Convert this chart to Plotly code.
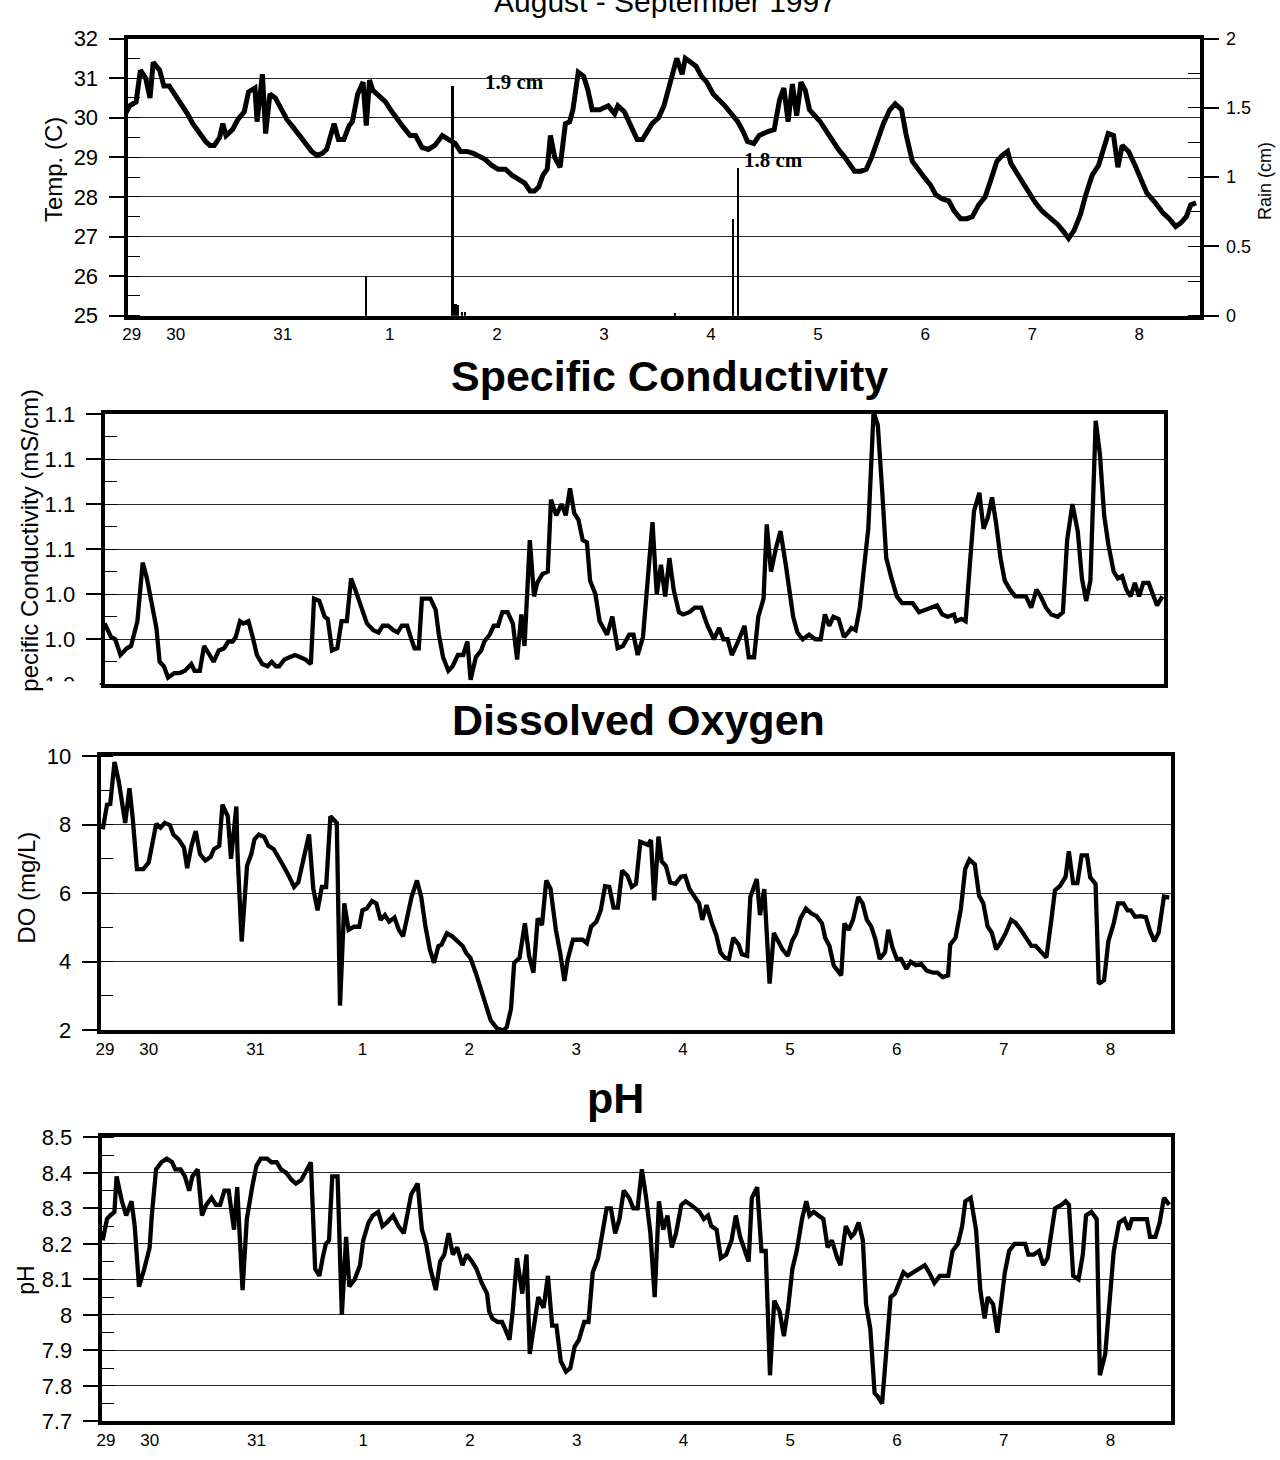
import plotly.graph_objects as go

W, H = 1280, 1460
OFF = 0  # body margin is removed below, so the figure fills the page exactly

def fx(px):
    return (px - OFF) / W

def fy(py):
    return 1 - (py - OFF) / H

# ---------------- data (time in days from Aug 29 00:00) ----------------
day_tickvals = [0.59, 1, 2, 3, 4, 5, 6, 7, 8, 9, 10]
day_ticktext = ["29", "30", "31", "1", "2", "3", "4", "5", "6", "7", "8"]

temp_series = [
    (0.51, 29.8), (0.53, 30.1), (0.57, 30.3), (0.63, 30.4), (0.67, 31.2), (0.72, 31.0), (0.76, 30.5),
    (0.79, 31.4), (0.85, 31.2), (0.89, 30.8), (0.94, 30.8), (0.99, 30.6), (1.05, 30.35), (1.11, 30.1),
    (1.16, 29.85), (1.22, 29.6), (1.28, 29.4), (1.32, 29.3), (1.36, 29.3), (1.41, 29.5), (1.44, 29.85),
    (1.47, 29.55), (1.53, 29.7), (1.58, 29.95), (1.64, 30.15), (1.68, 30.65), (1.74, 30.75), (1.76, 29.9),
    (1.81, 31.1), (1.84, 29.6), (1.88, 30.6), (1.93, 30.5), (1.99, 30.2), (2.04, 29.95), (2.10, 29.75),
    (2.16, 29.55), (2.21, 29.35), (2.27, 29.15), (2.32, 29.05), (2.37, 29.1), (2.41, 29.2), (2.44, 29.45),
    (2.48, 29.85), (2.52, 29.45), (2.57, 29.45), (2.62, 29.8), (2.65, 29.9), (2.70, 30.6), (2.75, 30.9),
    (2.78, 29.8), (2.81, 30.95), (2.84, 30.7), (2.90, 30.55), (2.96, 30.4), (3.02, 30.15), (3.07, 29.95),
    (3.13, 29.75), (3.19, 29.55), (3.24, 29.55), (3.30, 29.25), (3.36, 29.2), (3.42, 29.3), (3.49, 29.55),
    (3.55, 29.45), (3.61, 29.35), (3.66, 29.15), (3.72, 29.15), (3.78, 29.1), (3.84, 29.0), (3.89, 28.95),
    (3.95, 28.8), (4.01, 28.7), (4.08, 28.7), (4.14, 28.55), (4.20, 28.45), (4.26, 28.35), (4.31, 28.15),
    (4.35, 28.15), (4.39, 28.25), (4.43, 28.55), (4.47, 28.7), (4.50, 29.55), (4.54, 29.0), (4.59, 28.75),
    (4.64, 29.85), (4.68, 29.9), (4.71, 30.2), (4.76, 31.15), (4.81, 31.05), (4.85, 30.7), (4.89, 30.2),
    (4.96, 30.2), (5.04, 30.3), (5.10, 30.1), (5.13, 30.3), (5.19, 30.15), (5.25, 29.8), (5.31, 29.45),
    (5.36, 29.45), (5.39, 29.6), (5.45, 29.85), (5.51, 30.0), (5.56, 30.3), (5.62, 30.9), (5.68, 31.5),
    (5.73, 31.1), (5.76, 31.5), (5.81, 31.4), (5.86, 31.3), (5.91, 31.05), (5.96, 30.9), (6.02, 30.6),
    (6.08, 30.45), (6.13, 30.3), (6.19, 30.1), (6.25, 29.9), (6.30, 29.65), (6.34, 29.4), (6.40, 29.35),
    (6.45, 29.55), (6.53, 29.65), (6.59, 29.7), (6.64, 30.45), (6.68, 30.75), (6.72, 29.9), (6.76, 30.85),
    (6.80, 30.05), (6.84, 30.9), (6.88, 30.7), (6.92, 30.2), (6.97, 30.05), (7.02, 29.9), (7.08, 29.65),
    (7.14, 29.4), (7.19, 29.2), (7.25, 29.0), (7.31, 28.8), (7.34, 28.65), (7.40, 28.65), (7.45, 28.7),
    (7.50, 29.0), (7.55, 29.4), (7.61, 29.85), (7.67, 30.2), (7.72, 30.35), (7.78, 30.2), (7.82, 29.6),
    (7.88, 28.9), (7.93, 28.7), (7.99, 28.5), (8.05, 28.3), (8.10, 28.05), (8.16, 27.95), (8.22, 27.9),
    (8.27, 27.65), (8.33, 27.45), (8.39, 27.45), (8.44, 27.5), (8.50, 27.8), (8.56, 28.0), (8.61, 28.4),
    (8.67, 28.9), (8.72, 29.05), (8.77, 29.15), (8.80, 28.85), (8.86, 28.6), (8.92, 28.3), (8.97, 28.1),
    (9.03, 27.85), (9.09, 27.65), (9.16, 27.5), (9.24, 27.3), (9.30, 27.1), (9.34, 26.95), (9.39, 27.15),
    (9.45, 27.55), (9.50, 28.05), (9.56, 28.55), (9.62, 28.8), (9.66, 29.15), (9.71, 29.6), (9.76, 29.55),
    (9.80, 28.75), (9.84, 29.3), (9.90, 29.15), (9.96, 28.8), (10.02, 28.45), (10.07, 28.1), (10.15, 27.85),
    (10.22, 27.6), (10.28, 27.45), (10.34, 27.25), (10.39, 27.35), (10.44, 27.5), (10.48, 27.8), (10.53, 27.85),
]

rain_t = [2.77, 3.58, 3.61, 3.63, 3.67, 3.70, 5.66, 6.20, 6.25]
rain_cm = [0.29, 1.66, 0.09, 0.08, 0.03, 0.03, 0.02, 0.70, 1.07]
rain_labels = ["1.9 cm", "1.8 cm"]

cond_series = [
    (0.55, 1.027), (0.61, 1.021), (0.65, 1.020), (0.70, 1.013), (0.76, 1.016), (0.80, 1.017), (0.86, 1.028),
    (0.91, 1.054), (0.95, 1.047), (0.99, 1.038), (1.04, 1.025), (1.07, 1.010), (1.11, 1.008), (1.15, 1.003),
    (1.21, 1.005), (1.26, 1.005), (1.31, 1.006), (1.37, 1.009), (1.40, 1.006), (1.45, 1.006), (1.49, 1.017),
    (1.53, 1.014), (1.58, 1.010), (1.63, 1.015), (1.68, 1.016), (1.72, 1.019), (1.76, 1.019), (1.79, 1.021),
    (1.83, 1.028), (1.86, 1.027), (1.91, 1.028), (1.95, 1.021), (1.99, 1.013), (2.04, 1.009), (2.09, 1.008),
    (2.13, 1.010), (2.17, 1.008), (2.20, 1.008), (2.25, 1.011), (2.30, 1.012), (2.35, 1.013), (2.40, 1.012),
    (2.45, 1.011), (2.50, 1.009), (2.53, 1.038), (2.58, 1.037), (2.63, 1.030), (2.66, 1.029), (2.70, 1.015),
    (2.75, 1.016), (2.79, 1.028), (2.84, 1.028), (2.88, 1.047), (2.92, 1.042), (2.98, 1.033), (3.03, 1.027),
    (3.09, 1.024), (3.14, 1.023), (3.18, 1.026), (3.23, 1.026), (3.28, 1.024), (3.32, 1.023), (3.36, 1.026),
    (3.41, 1.026), (3.45, 1.020), (3.48, 1.016), (3.52, 1.016), (3.55, 1.038), (3.63, 1.038), (3.68, 1.033),
    (3.71, 1.022), (3.75, 1.012), (3.80, 1.006), (3.84, 1.008), (3.89, 1.013), (3.94, 1.013), (3.98, 1.019),
    (4.01, 1.002), (4.06, 1.012), (4.11, 1.015), (4.14, 1.019), (4.19, 1.022), (4.23, 1.026), (4.27, 1.026),
    (4.31, 1.032), (4.36, 1.032), (4.41, 1.027), (4.45, 1.011), (4.49, 1.031), (4.52, 1.017), (4.57, 1.064),
    (4.61, 1.039), (4.64, 1.045), (4.69, 1.049), (4.74, 1.050), (4.77, 1.082), (4.82, 1.075), (4.87, 1.080),
    (4.91, 1.075), (4.95, 1.087), (4.99, 1.076), (5.03, 1.073), (5.07, 1.064), (5.11, 1.063), (5.14, 1.046),
    (5.19, 1.040), (5.23, 1.028), (5.27, 1.024), (5.30, 1.022), (5.35, 1.030), (5.40, 1.016), (5.45, 1.017),
    (5.51, 1.022), (5.55, 1.022), (5.59, 1.013), (5.64, 1.021), (5.73, 1.072), (5.77, 1.040), (5.81, 1.053),
    (5.85, 1.039), (5.89, 1.056), (5.93, 1.042), (5.98, 1.032), (6.02, 1.031), (6.08, 1.032), (6.13, 1.034),
    (6.19, 1.034), (6.25, 1.026), (6.31, 1.020), (6.36, 1.025), (6.40, 1.020), (6.44, 1.020), (6.48, 1.013),
    (6.53, 1.018), (6.60, 1.026), (6.64, 1.012), (6.69, 1.012), (6.73, 1.030), (6.78, 1.038), (6.81, 1.071),
    (6.85, 1.050), (6.90, 1.061), (6.94, 1.068), (6.99, 1.053), (7.03, 1.040), (7.06, 1.030), (7.10, 1.023),
    (7.15, 1.020), (7.21, 1.022), (7.27, 1.020), (7.32, 1.020), (7.36, 1.031), (7.40, 1.026), (7.44, 1.030),
    (7.49, 1.029), (7.54, 1.021), (7.58, 1.023), (7.61, 1.025), (7.65, 1.024), (7.69, 1.034), (7.73, 1.052),
    (7.77, 1.069), (7.82, 1.121), (7.86, 1.115), (7.90, 1.087), (7.94, 1.056), (7.99, 1.047), (8.04, 1.039),
    (8.09, 1.036), (8.13, 1.036), (8.19, 1.036), (8.25, 1.032), (8.31, 1.033), (8.36, 1.034), (8.42, 1.035),
    (8.47, 1.031), (8.52, 1.030), (8.58, 1.031), (8.60, 1.028), (8.65, 1.029), (8.69, 1.028), (8.73, 1.053),
    (8.77, 1.077), (8.82, 1.085), (8.86, 1.069), (8.90, 1.074), (8.94, 1.083), (8.98, 1.071), (9.02, 1.056),
    (9.06, 1.046), (9.11, 1.042), (9.16, 1.039), (9.21, 1.039), (9.26, 1.039), (9.31, 1.034), (9.36, 1.042),
    (9.40, 1.039), (9.45, 1.034), (9.50, 1.031), (9.56, 1.030), (9.61, 1.032), (9.65, 1.064), (9.70, 1.080),
    (9.75, 1.068), (9.79, 1.047), (9.83, 1.037), (9.87, 1.046), (9.92, 1.117), (9.96, 1.102), (10.00, 1.075),
    (10.04, 1.062), (10.09, 1.050), (10.13, 1.047), (10.17, 1.048), (10.21, 1.042), (10.25, 1.039),
    (10.29, 1.045), (10.33, 1.039), (10.37, 1.045), (10.42, 1.045), (10.46, 1.040), (10.50, 1.035), (10.55, 1.039),
]

do_series = [
    (0.57, 7.86), (0.61, 8.58), (0.64, 8.6), (0.68, 9.83), (0.72, 9.25), (0.78, 8.05), (0.82, 9.06),
    (0.85, 8.2), (0.89, 6.7), (0.95, 6.7), (1.00, 6.9), (1.03, 7.43), (1.07, 8.02), (1.11, 7.91),
    (1.15, 8.05), (1.20, 7.98), (1.23, 7.71), (1.28, 7.57), (1.33, 7.33), (1.36, 6.73), (1.40, 7.38),
    (1.44, 7.81), (1.48, 7.14), (1.53, 6.95), (1.58, 7.06), (1.61, 7.28), (1.66, 7.38), (1.69, 8.58),
    (1.74, 8.24), (1.77, 7.0), (1.82, 8.53), (1.83, 7.23), (1.87, 4.59), (1.92, 6.8), (1.96, 7.14),
    (1.99, 7.57), (2.03, 7.71), (2.08, 7.64), (2.12, 7.38), (2.17, 7.28), (2.21, 7.04), (2.26, 6.8),
    (2.31, 6.51), (2.36, 6.18), (2.40, 6.32), (2.45, 7.09), (2.50, 7.71), (2.54, 6.13), (2.58, 5.5),
    (2.62, 6.18), (2.66, 6.18), (2.70, 8.24), (2.76, 8.05), (2.79, 2.72), (2.83, 5.7), (2.87, 4.93),
    (2.92, 5.02), (2.97, 5.02), (3.00, 5.5), (3.04, 5.55), (3.09, 5.77), (3.13, 5.7), (3.17, 5.22),
    (3.21, 5.36), (3.25, 5.17), (3.30, 5.29), (3.34, 4.93), (3.38, 4.74), (3.42, 5.31), (3.46, 5.89),
    (3.51, 6.37), (3.55, 5.89), (3.59, 5.02), (3.63, 4.35), (3.67, 3.97), (3.71, 4.45), (3.74, 4.5),
    (3.79, 4.83), (3.84, 4.74), (3.88, 4.64), (3.94, 4.45), (3.97, 4.26), (4.01, 4.11), (4.06, 3.68),
    (4.11, 3.2), (4.15, 2.72), (4.20, 2.29), (4.26, 2.05), (4.32, 2.0), (4.35, 2.09), (4.39, 2.62),
    (4.42, 3.97), (4.47, 4.11), (4.52, 5.12), (4.56, 4.16), (4.60, 3.68), (4.64, 5.26), (4.68, 5.07),
    (4.72, 6.37), (4.76, 6.13), (4.81, 4.93), (4.85, 4.26), (4.89, 3.44), (4.92, 4.06), (4.97, 4.64),
    (5.02, 4.64), (5.06, 4.64), (5.10, 4.54), (5.14, 5.02), (5.19, 5.17), (5.23, 5.5), (5.27, 6.2),
    (5.31, 6.18), (5.35, 5.58), (5.39, 5.58), (5.43, 6.66), (5.48, 6.51), (5.52, 6.18), (5.56, 6.27),
    (5.60, 7.5), (5.63, 7.45), (5.67, 7.41), (5.70, 7.55), (5.73, 5.79), (5.77, 7.65), (5.80, 6.93),
    (5.84, 6.79), (5.88, 6.31), (5.93, 6.27), (5.98, 6.48), (6.02, 6.5), (6.06, 6.12), (6.10, 5.93),
    (6.15, 5.7), (6.18, 5.22), (6.22, 5.65), (6.27, 5.12), (6.31, 4.79), (6.35, 4.27), (6.39, 4.12),
    (6.43, 4.08), (6.47, 4.7), (6.52, 4.5), (6.55, 4.22), (6.60, 4.17), (6.63, 5.89), (6.69, 6.41),
    (6.72, 5.36), (6.76, 6.12), (6.81, 3.36), (6.85, 4.84), (6.89, 4.6), (6.93, 4.36), (6.98, 4.17),
    (7.02, 4.6), (7.06, 4.84), (7.10, 5.27), (7.15, 5.55), (7.20, 5.41), (7.25, 5.33), (7.30, 5.12),
    (7.33, 4.7), (7.37, 4.46), (7.41, 3.89), (7.48, 3.6), (7.51, 5.12), (7.55, 4.93), (7.59, 5.22),
    (7.64, 5.89), (7.68, 5.7), (7.72, 5.22), (7.76, 5.03), (7.80, 4.65), (7.84, 4.08), (7.89, 4.27),
    (7.92, 4.93), (7.96, 4.41), (8.00, 4.08), (8.04, 4.08), (8.09, 3.79), (8.13, 4.0), (8.18, 3.9),
    (8.23, 3.93), (8.28, 3.74), (8.34, 3.68), (8.38, 3.68), (8.43, 3.55), (8.48, 3.6), (8.50, 4.5),
    (8.55, 4.7), (8.60, 5.55), (8.64, 6.7), (8.68, 6.98), (8.73, 6.84), (8.77, 5.93), (8.81, 5.7),
    (8.85, 5.03), (8.89, 4.84), (8.93, 4.36), (8.97, 4.55), (9.02, 4.84), (9.07, 5.22), (9.11, 5.14),
    (9.16, 4.93), (9.21, 4.7), (9.26, 4.46), (9.30, 4.46), (9.35, 4.27), (9.40, 4.12), (9.45, 5.31),
    (9.48, 6.08), (9.53, 6.22), (9.58, 6.48), (9.61, 7.22), (9.65, 6.29), (9.69, 6.29), (9.73, 7.1),
    (9.78, 7.1), (9.81, 6.46), (9.86, 6.27), (9.89, 3.36), (9.94, 3.46), (9.98, 4.6), (10.03, 5.12),
    (10.07, 5.7), (10.12, 5.7), (10.16, 5.5), (10.19, 5.5), (10.23, 5.31), (10.28, 5.33), (10.33, 5.3),
    (10.37, 4.89), (10.41, 4.6), (10.45, 4.84), (10.50, 5.9), (10.55, 5.87),
]

ph_series = [
    (0.56, 8.21), (0.60, 8.27), (0.63, 8.28), (0.67, 8.29), (0.69, 8.39), (0.74, 8.32), (0.78, 8.28),
    (0.83, 8.32), (0.86, 8.25), (0.90, 8.08), (0.95, 8.13), (1.00, 8.19), (1.02, 8.28), (1.06, 8.41),
    (1.11, 8.43), (1.16, 8.44), (1.21, 8.43), (1.24, 8.41), (1.29, 8.41), (1.33, 8.39), (1.37, 8.35),
    (1.40, 8.39), (1.45, 8.41), (1.49, 8.28), (1.53, 8.31), (1.58, 8.33), (1.62, 8.31), (1.66, 8.31),
    (1.70, 8.35), (1.74, 8.35), (1.79, 8.24), (1.82, 8.36), (1.87, 8.07), (1.91, 8.27), (1.96, 8.36),
    (2.00, 8.42), (2.04, 8.44), (2.10, 8.44), (2.14, 8.43), (2.19, 8.43), (2.23, 8.41), (2.28, 8.40),
    (2.33, 8.38), (2.37, 8.37), (2.42, 8.38), (2.47, 8.41), (2.51, 8.43), (2.55, 8.13), (2.59, 8.11),
    (2.62, 8.16), (2.65, 8.20), (2.68, 8.21), (2.71, 8.39), (2.76, 8.39), (2.80, 8.00), (2.84, 8.22),
    (2.87, 8.08), (2.92, 8.10), (2.97, 8.14), (3.00, 8.21), (3.05, 8.26), (3.09, 8.28), (3.14, 8.29),
    (3.18, 8.25), (3.22, 8.26), (3.28, 8.28), (3.33, 8.25), (3.38, 8.23), (3.41, 8.28), (3.45, 8.34),
    (3.51, 8.37), (3.55, 8.24), (3.59, 8.20), (3.63, 8.13), (3.68, 8.07), (3.72, 8.15), (3.76, 8.17),
    (3.80, 8.23), (3.84, 8.17), (3.88, 8.19), (3.93, 8.14), (3.97, 8.17), (4.02, 8.15), (4.06, 8.13),
    (4.11, 8.09), (4.16, 8.06), (4.18, 8.01), (4.21, 7.99), (4.26, 7.98), (4.30, 7.98), (4.33, 7.96),
    (4.37, 7.93), (4.40, 8.01), (4.44, 8.16), (4.49, 8.06), (4.53, 8.17), (4.56, 7.89), (4.59, 7.95),
    (4.64, 8.05), (4.69, 8.02), (4.73, 8.11), (4.77, 7.97), (4.81, 7.97), (4.85, 7.87), (4.90, 7.84),
    (4.94, 7.85), (4.98, 7.91), (5.02, 7.93), (5.07, 7.98), (5.11, 7.98), (5.15, 8.12), (5.20, 8.16),
    (5.24, 8.23), (5.28, 8.30), (5.32, 8.30), (5.36, 8.23), (5.40, 8.27), (5.44, 8.35), (5.49, 8.33),
    (5.53, 8.30), (5.57, 8.30), (5.61, 8.41), (5.65, 8.33), (5.69, 8.23), (5.73, 8.05), (5.77, 8.32),
    (5.81, 8.24), (5.85, 8.28), (5.89, 8.19), (5.93, 8.23), (5.98, 8.31), (6.02, 8.32), (6.07, 8.31),
    (6.11, 8.30), (6.15, 8.29), (6.19, 8.27), (6.23, 8.28), (6.26, 8.25), (6.31, 8.24), (6.35, 8.16),
    (6.40, 8.17), (6.45, 8.21), (6.49, 8.28), (6.53, 8.22), (6.57, 8.18), (6.61, 8.15), (6.64, 8.33),
    (6.69, 8.36), (6.73, 8.18), (6.77, 8.18), (6.81, 7.83), (6.85, 8.04), (6.90, 8.01), (6.94, 7.94),
    (6.98, 8.02), (7.02, 8.13), (7.06, 8.18), (7.11, 8.27), (7.15, 8.32), (7.18, 8.28), (7.22, 8.29),
    (7.26, 8.28), (7.31, 8.27), (7.35, 8.19), (7.39, 8.21), (7.44, 8.16), (7.47, 8.14), (7.52, 8.25),
    (7.57, 8.22), (7.60, 8.23), (7.64, 8.26), (7.68, 8.21), (7.71, 8.03), (7.75, 7.96), (7.79, 7.78),
    (7.82, 7.77), (7.86, 7.75), (7.90, 7.90), (7.94, 8.05), (7.98, 8.06), (8.01, 8.08), (8.06, 8.12),
    (8.10, 8.11), (8.15, 8.12), (8.21, 8.13), (8.26, 8.14), (8.30, 8.12), (8.35, 8.09), (8.40, 8.11),
    (8.44, 8.11), (8.48, 8.11), (8.52, 8.18), (8.57, 8.20), (8.61, 8.25), (8.64, 8.32), (8.69, 8.33),
    (8.74, 8.24), (8.78, 8.07), (8.82, 7.99), (8.85, 8.05), (8.90, 8.03), (8.94, 7.95), (8.97, 8.02),
    (9.01, 8.12), (9.05, 8.18), (9.10, 8.20), (9.15, 8.20), (9.20, 8.20), (9.23, 8.17), (9.28, 8.17),
    (9.33, 8.18), (9.37, 8.14), (9.41, 8.16), (9.44, 8.23), (9.48, 8.30), (9.54, 8.31), (9.58, 8.32),
    (9.61, 8.31), (9.65, 8.11), (9.70, 8.10), (9.74, 8.17), (9.77, 8.28), (9.82, 8.29), (9.87, 8.27),
    (9.90, 7.83), (9.95, 7.89), (9.99, 8.03), (10.03, 8.18), (10.08, 8.26), (10.13, 8.27), (10.17, 8.24),
    (10.20, 8.27), (10.24, 8.27), (10.29, 8.27), (10.34, 8.27), (10.37, 8.22), (10.42, 8.22), (10.46, 8.26),
    (10.50, 8.33), (10.55, 8.31),
]


def unzip(series):
    return [p[0] for p in series], [p[1] for p in series]


FONT = "Liberation Sans, Arial, sans-serif"
SERIF = "Liberation Serif, Times New Roman, serif"
BLACK = "black"

fig = go.Figure()

tx, ty = unzip(temp_series)
fig.add_trace(go.Scatter(x=tx, y=ty, mode="lines", line=dict(color=BLACK, width=5),
                         xaxis="x", yaxis="y", showlegend=False))
fig.add_trace(go.Bar(x=rain_t, y=rain_cm, width=0.022, marker=dict(color=BLACK, line=dict(width=0)),
                     xaxis="x", yaxis="y5", showlegend=False))
cx, cy = unzip(cond_series)
fig.add_trace(go.Scatter(x=cx, y=cy, mode="lines", line=dict(color=BLACK, width=4.3),
                         xaxis="x2", yaxis="y2", showlegend=False))
dx, dy = unzip(do_series)
fig.add_trace(go.Scatter(x=dx, y=dy, mode="lines", line=dict(color=BLACK, width=4.3),
                         xaxis="x3", yaxis="y3", showlegend=False))
px_, py_ = unzip(ph_series)
fig.add_trace(go.Scatter(x=px_, y=py_, mode="lines", line=dict(color=BLACK, width=4.3),
                         xaxis="x4", yaxis="y4", showlegend=False))


def xax(left, right, anchor, labels=True):
    return dict(domain=[fx(left), fx(right)], anchor=anchor, range=[0.55, 10.57],
                tickmode="array", tickvals=day_tickvals, ticktext=day_ticktext,
                showticklabels=labels, ticks="", showgrid=False, zeroline=False,
                showline=True, mirror=True, linecolor=BLACK, linewidth=4,
                tickfont=dict(family=FONT, size=17, color=BLACK))


def yax(top, bottom, anchor, rng, dtick, mdtick, fmt=None):
    d = dict(domain=[fy(bottom), fy(top)], anchor=anchor, range=rng, dtick=dtick,
             tick0=rng[0], ticks="outside", ticklen=15, tickwidth=1.5, tickcolor=BLACK,
             ticklabelstandoff=6,
             showgrid=True, gridcolor="#2a2a2a", gridwidth=1.3, zeroline=False,
             showline=True, mirror=True, linecolor=BLACK, linewidth=4,
             tickfont=dict(family=FONT, size=22, color=BLACK),
             minor=dict(dtick=mdtick, tick0=rng[0], ticks="inside", ticklen=12,
                        tickwidth=1.3, tickcolor=BLACK, showgrid=False))
    if fmt:
        d["tickformat"] = fmt
    return d


P1 = (123, 1200, 27, 309)
P2 = (100, 1164, 409, 684)
P3 = (96, 1171, 757, 1036)
P4 = (97, 1171, 1145, 1434)

fig.update_layout(
    width=W, height=H,
    margin=dict(l=0, r=0, t=0, b=0),
    paper_bgcolor="white", plot_bgcolor="white",
    bargap=0, showlegend=False,
    xaxis=xax(P1[0], P1[1], "y"),
    yaxis=yax(P1[2], P1[3], "x", [25, 32], 1, 0.5),
    yaxis5=dict(overlaying="y", side="right", anchor="x", range=[0, 2], dtick=0.5,
                ticks="outside", ticklen=15, tickwidth=1.5, tickcolor=BLACK, ticklabelstandoff=3,
                showgrid=False, zeroline=False, showline=True, linecolor=BLACK, linewidth=4,
                tickfont=dict(family=FONT, size=18, color=BLACK),
                minor=dict(dtick=0.25, ticks="inside", ticklen=12, tickwidth=1.3, tickcolor=BLACK)),
    xaxis2=xax(P2[0], P2[1], "y2", labels=False),
    yaxis2=yax(P2[2], P2[3], "x2", [1.0, 1.12], 0.02, 0.01, fmt=".1f"),
    xaxis3=xax(P3[0], P3[1], "y3"),
    yaxis3=yax(P3[2], P3[3], "x3", [2, 10], 2, 1),
    xaxis4=xax(P4[0], P4[1], "y4"),
    yaxis4=yax(P4[2], P4[3], "x4", [7.7, 8.5], 0.1, 0.05),
)

# the scanned original clips the lowest conductivity tick label
fig.add_shape(type="rect", xref="paper", yref="paper", layer="above",
              x0=fx(40), x1=fx(95), y0=fy(702), y1=fy(681),
              fillcolor="white", line=dict(width=0))

ann = []


def text(s, x, y, size, bold=False, angle=0, family=FONT, xanchor="center"):
    ann.append(dict(text=("<b>%s</b>" % s) if bold else s, x=fx(x), y=fy(y), xref="paper", yref="paper",
                    showarrow=False, xanchor=xanchor, yanchor="middle", textangle=angle,
                    font=dict(family=family, size=size, color=BLACK)))


# the scan cuts this heading off at the top edge of the page
text("August - September 1997", 663, -11, 30)
text("Specific Conductivity", 667, 370, 43, bold=True)
text("Dissolved Oxygen", 636, 720, 43, bold=True)
text("pH", 613, 1105, 43, bold=True)

text("Temp. (C)", 48, 160, 24, angle=-90)
text("Rain (cm)", 1265, 172, 18, angle=-90)
text("pecific Conductivity (mS/cm)", 25, 537, 24, angle=-90)
text("DO (mg/L)", 22, 891, 24, angle=-90)
text("pH", 21, 1290, 23, angle=-90)

# rain amount labels beside their bars
text(rain_labels[0], 480, 71, 21, bold=True, family=SERIF, xanchor="left")
text(rain_labels[1], 740, 151, 21, bold=True, family=SERIF, xanchor="left")

fig.update_layout(annotations=ann)

fig.write_html(
    "out.html",
    config={"displayModeBar": False},
    post_script="document.body.style.margin='0';document.body.style.overflow='hidden';",
)
